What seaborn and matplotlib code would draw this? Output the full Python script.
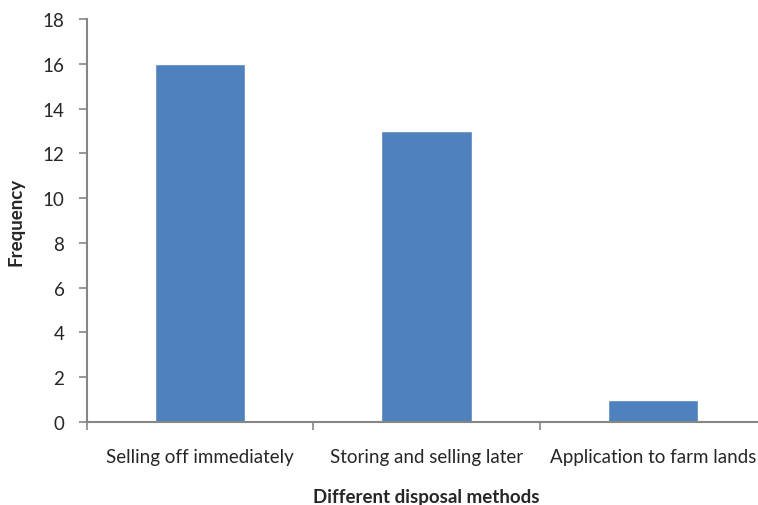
import matplotlib
matplotlib.use("Agg")
import matplotlib.pyplot as plt
import seaborn as sns
import pandas as pd
import numpy as np

methods = ["Selling off immediately", "Storing and selling later", "Application to farm lands"]
frequency = [16, 13, 1]
y_ticks = [0, 2, 4, 6, 8, 10, 12, 14, 16, 18]

sns.set_style("white")
plt.rcParams['font.family'] = ['Lato', 'DejaVu Sans']

df = pd.DataFrame({"method": methods, "frequency": frequency})

fig = plt.figure(figsize=(7.58, 5.06), dpi=100)
ax = fig.add_axes([86.7 / 758, 1 - 423 / 506, 679.5 / 758, 403 / 506])

sns.barplot(data=df, x="method", y="frequency", color="#4F81BD", width=0.4,
            saturation=1, ax=ax)

axis_grey = "#868686"
ax.set_xlim(-0.5, 2.5)
ax.set_ylim(0, 18)
ax.set_yticks(y_ticks)
ax.tick_params(axis="y", which="major", length=6, width=1.2, color=axis_grey,
               labelsize=13.5, pad=10, left=True)
ax.tick_params(axis="x", which="major", length=0, labelsize=13.5, pad=19)
ax.set_xticks(np.arange(-0.5, 3.0, 1.0), minor=True)
ax.tick_params(axis="x", which="minor", length=6, width=1.2, color=axis_grey, bottom=True)

for side in ["top", "right"]:
    ax.spines[side].set_visible(False)
for side in ["left", "bottom"]:
    ax.spines[side].set_color(axis_grey)
    ax.spines[side].set_linewidth(1.5)

ax.set_xlabel("Different disposal methods", fontsize=13.5, fontweight="bold", labelpad=16)
ax.set_ylabel("Frequency", fontsize=13.5, fontweight="bold", labelpad=13)

fig.savefig("out.png", dpi=100)
